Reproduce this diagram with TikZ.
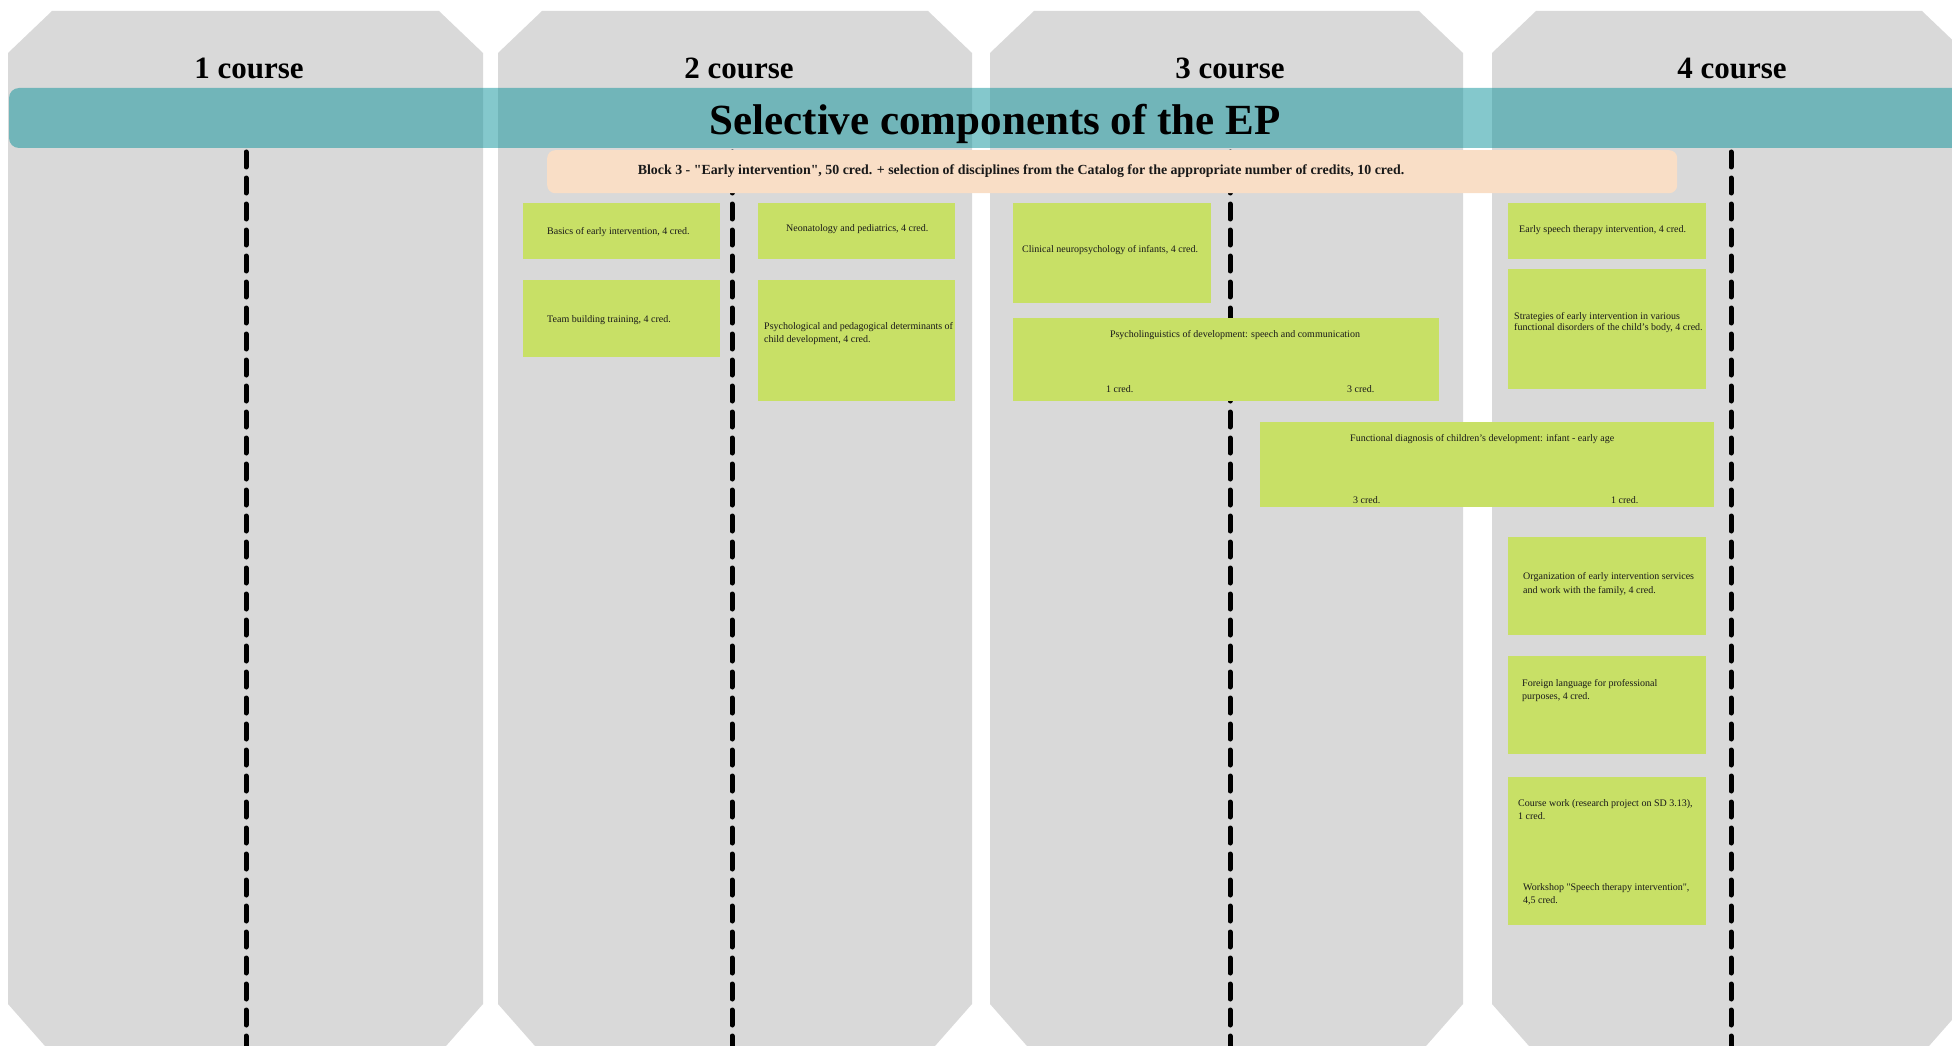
\documentclass[tikz,border=0pt]{standalone}
\usepackage{fontspec}
\setmainfont{Liberation Serif}[Ligatures=TeXOff]
\definecolor{panelgray}{RGB}{217,217,217}
\definecolor{bannerteal}{RGB}{10,146,154}
\definecolor{peach}{RGB}{249,222,198}
\definecolor{lime}{RGB}{200,224,102}
\definecolor{ink}{RGB}{25,25,25}
\tikzset{
 panel/.style={fill=panelgray, draw=none},
 divider/.style={line width=5pt, line cap=round, dash pattern=on 15pt off 11pt, black},
 gbox/.style={fill=lime, draw=none, anchor=north west, inner sep=0pt, outer sep=0pt},
 lbl/.style={anchor=west, inner sep=0pt, text=ink, font=\fontsize{10}{13.3}\selectfont, align=left},
 head/.style={anchor=base, inner sep=0pt, font=\fontsize{31}{31}\selectfont\bfseries},
}
\begin{document}
\begin{tikzpicture}[x=1pt,y=-1pt]
\useasboundingbox (0,0) rectangle (1952,1046);
\clip (0,0) rectangle (1952,1046);
% panels
\foreach \L/\R in {8/483, 498/972, 990/1463, 1492/1966}{
  \fill[panel] (\L+44,11) -- (\R-44,11) -- (\R,53) -- (\R,1004) -- (\R-37,1046)
     -- (\L+37,1046) -- (\L,1004) -- (\L,53) -- cycle;
}
% dividers
\foreach \X in {246,732,1230,1731}{
  \draw[divider] (\X,152) -- (\X,1070);
}
% headers
\node[head] (h1) at (249,79) {1 course};
\node[head] (h2) at (739,79) {2 course};
\node[head] (h3) at (1230,79) {3 course};
\node[head] (h4) at (1732,79) {4 course};
% banner
\fill[bannerteal, fill opacity=0.5, rounded corners=10pt] (9,88) rectangle (1985,148);
\node[anchor=base, inner sep=0pt, font=\fontsize{43}{43}\selectfont\bfseries] (title) at (995,135) {Selective components of the EP};
% block 3
\node[fill=peach, rounded corners=8pt, anchor=north west, minimum width=1130pt, minimum height=43pt, inner sep=0pt] (block) at (547,150) {};
\node[anchor=base, inner sep=0pt, text=ink, font=\fontsize{13.9}{14}\selectfont\bfseries] (blocktxt) at (1021,175) {Block 3 - "Early intervention", 50 cred. + selection of disciplines from the Catalog for the appropriate number of credits, 10 cred.};
% course 2
\node[gbox, minimum width=197pt, minimum height=56pt] (basics) at (523,203) {};
\node[lbl] (tbasics) at (547,232) {Basics of early intervention, 4 cred.};
\node[gbox, minimum width=197pt, minimum height=77pt] (team) at (523,280) {};
\node[lbl] (tteam) at (547,320) {Team building training, 4 cred.};
\node[gbox, minimum width=197pt, minimum height=56pt] (neo) at (758,203) {};
\node[lbl] (tneo) at (786,229) {Neonatology and pediatrics, 4 cred.};
\node[gbox, minimum width=197pt, minimum height=121pt] (psyped) at (758,280) {};
\node[lbl] (tpsyped) at (764,333.5) {Psychological and pedagogical determinants of\\child development, 4 cred.};
% course 3
\node[gbox, minimum width=198pt, minimum height=100pt] (clin) at (1013,203) {};
\node[lbl] (tclin) at (1022,250) {Clinical neuropsychology of infants, 4 cred.};
\node[gbox, minimum width=426pt, minimum height=83pt] (psyling) at (1013,318) {};
\node[lbl, anchor=center] (tpsyling) at (1235,335) {Psycholinguistics of development: speech and communication};
\node[lbl] (tpsyl1) at (1106,389) {1 cred.};
\node[lbl] (tpsyl3) at (1347,389) {3 cred.};
\node[gbox, minimum width=454pt, minimum height=85pt] (func) at (1260,422) {};
\node[lbl] (tfunc) at (1350,439) {Functional diagnosis of children’s development: infant - early age};
\node[lbl] (tfunc3) at (1353,500) {3 cred.};
\node[lbl] (tfunc1) at (1611,500) {1 cred.};
% course 4
\node[gbox, minimum width=198pt, minimum height=56pt] (speech) at (1508,203) {};
\node[lbl] (tspeech) at (1519,230) {Early speech therapy intervention, 4 cred.};
\node[gbox, minimum width=198pt, minimum height=120pt] (strat) at (1508,269) {};
\node[lbl, font=\fontsize{10}{11.7}\selectfont] (tstrat) at (1514,322.5) {Strategies of early intervention in various\\functional disorders of the child’s body, 4 cred.};
\node[gbox, minimum width=198pt, minimum height=98pt] (org) at (1508,537) {};
\node[lbl] (torg) at (1523,584) {Organization of early intervention services\\and work with the family, 4 cred.};
\node[gbox, minimum width=198pt, minimum height=98pt] (foreign) at (1508,656) {};
\node[lbl] (tforeign) at (1522,690.5) {Foreign language for professional\\purposes, 4 cred.};
\node[gbox, minimum width=198pt, minimum height=148pt] (cwork) at (1508,777) {};
\node[lbl] (tcwork) at (1518,809.5) {Course work (research project on SD 3.13),\\1 cred.};
\node[lbl] (tworkshop) at (1523,894.5) {Workshop "Speech therapy intervention",\\4,5 cred.};
\end{tikzpicture}
\end{document}
